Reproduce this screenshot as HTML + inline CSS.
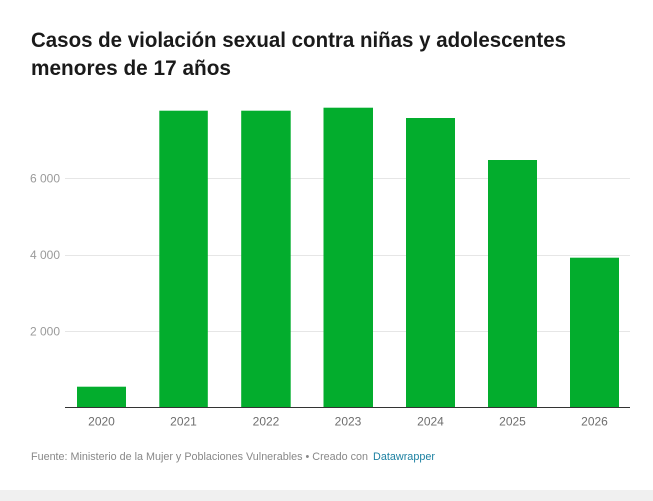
<!DOCTYPE html>
<html><head><meta charset="utf-8">
<style>
html,body{margin:0;padding:0;background:#fff;}
svg{display:block;}
</style></head>
<body>
<svg width="653" height="501" viewBox="0 0 653 501" xmlns="http://www.w3.org/2000/svg" font-family="'Liberation Sans', sans-serif">
<rect x="0" y="0" width="653" height="501" fill="#fff"/>
<text x="31" y="47" font-size="21.5" font-weight="bold" fill="#1a1a1a" textLength="535" lengthAdjust="spacingAndGlyphs">Casos de violación sexual contra niñas y adolescentes</text>
<text x="31" y="75" font-size="21.5" font-weight="bold" fill="#1a1a1a" textLength="200" lengthAdjust="spacingAndGlyphs">menores de 17 años</text>
<g stroke="#e6e6e6" stroke-width="1">
<line x1="65" y1="178.5" x2="630" y2="178.5"/>
<line x1="65" y1="255.5" x2="630" y2="255.5"/>
<line x1="65" y1="331.5" x2="630" y2="331.5"/>
</g>
<g font-size="12" fill="#9a9a9a" text-anchor="end">
<text x="60" y="182.5">6 000</text>
<text x="60" y="259">4 000</text>
<text x="60" y="335.5">2 000</text>
</g>
<g fill="#03ad2d">
<rect x="77" y="386.7" width="49" height="20.3"/>
<rect x="159.3" y="110.7" width="48.5" height="296.3"/>
<rect x="241.2" y="110.7" width="49.5" height="296.3"/>
<rect x="323.5" y="107.7" width="49.5" height="299.3"/>
<rect x="406" y="118" width="49" height="289"/>
<rect x="488" y="160" width="49" height="247"/>
<rect x="570" y="257.7" width="49" height="149.3"/>
</g>
<line x1="65" y1="407.5" x2="630" y2="407.5" stroke="#333" stroke-width="1"/>
<g font-size="12" fill="#6e6e6e" text-anchor="middle">
<text x="101.5" y="425.5">2020</text>
<text x="183.5" y="425.5">2021</text>
<text x="266" y="425.5">2022</text>
<text x="348" y="425.5">2023</text>
<text x="430.5" y="425.5">2024</text>
<text x="512.5" y="425.5">2025</text>
<text x="594.5" y="425.5">2026</text>
</g>
<text x="31" y="460" font-size="11" fill="#888" textLength="337" lengthAdjust="spacingAndGlyphs">Fuente: Ministerio de la Mujer y Poblaciones Vulnerables • Creado con</text>
<text x="373" y="460" font-size="11" fill="#1d81a2" textLength="62" lengthAdjust="spacingAndGlyphs">Datawrapper</text>
<rect x="0" y="490" width="653" height="11" fill="#f0f0f0"/>
</svg>
</body></html>
